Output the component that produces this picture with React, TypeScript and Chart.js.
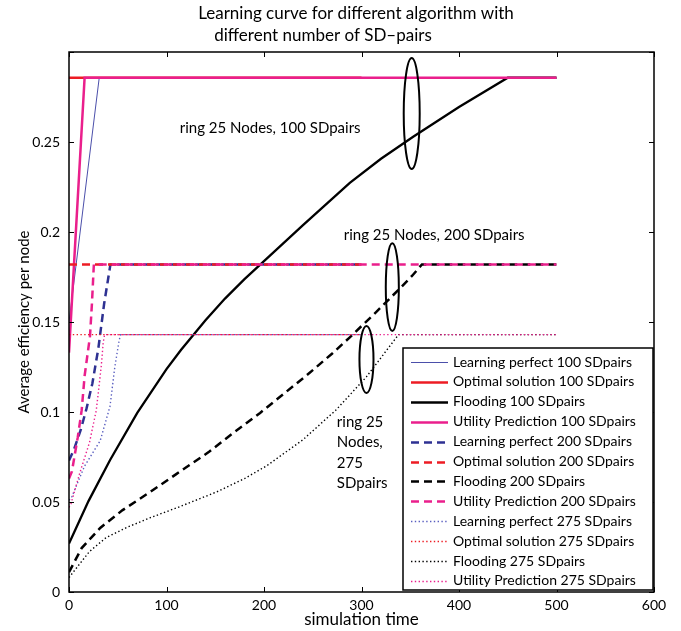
import React, { useEffect, useRef } from 'react';
import { Chart, registerables } from 'chart.js';
Chart.register(...registerables);

const FONT = 'Lato, "Noto Sans", sans-serif';

const titleLines = ['Learning curve for different algorithm with', 'different number of SD\u2013pairs'];
const xAxisTitle = 'simulation time';
const yAxisTitle = 'Average efficiency per node';
const xTicks = [0, 100, 200, 300, 400, 500, 600];
const yTicks = [0, 0.05, 0.1, 0.15, 0.2, 0.25, 0.3];

const seriesLabels = [
  'Learning perfect 100 SDpairs',
  'Optimal solution 100 SDpairs',
  'Flooding 100 SDpairs',
  'Utility Prediction 100 SDpairs',
  'Learning perfect 200 SDpairs',
  'Optimal solution 200 SDpairs',
  'Flooding 200 SDpairs',
  'Utility Prediction 200 SDpairs',
  'Learning perfect 275 SDpairs',
  'Optimal solution 275 SDpairs',
  'Flooding 275 SDpairs',
  'Utility Prediction 275 SDpairs',
];

// ---- 100 SD pairs ----
const learn100X = [0, 31, 300];
const learn100Y = [0.15, 0.2857, 0.2857];
const opt100X = [0, 300];
const opt100Y = [0.2857, 0.2857];
const flood100X = [0, 20, 42, 70, 100, 115, 140, 160, 180, 200, 240, 288, 320, 353, 400, 450, 500];
const flood100Y = [0.027, 0.0505, 0.0732, 0.0995, 0.1238, 0.1346, 0.151, 0.163, 0.1738, 0.1838, 0.2038, 0.2273, 0.2407, 0.2529, 0.2694, 0.2857, 0.2857];
const util100X = [0, 16, 500];
const util100Y = [0.133, 0.2857, 0.2857];

// ---- 200 SD pairs ----
const learn200X = [0, 5, 12, 18, 24, 30, 36, 42.5, 300];
const learn200Y = [0.073, 0.079, 0.09, 0.102, 0.116, 0.135, 0.16, 0.182, 0.182];
const opt200X = [0, 300];
const opt200Y = [0.182, 0.182];
const flood200X = [0, 13, 32, 55, 83, 110, 144, 170, 196, 220, 244, 270, 288, 315, 340, 352, 362, 500];
const flood200Y = [0.011, 0.0244, 0.0356, 0.0455, 0.0555, 0.0655, 0.078, 0.089, 0.0995, 0.11, 0.1205, 0.1325, 0.1415, 0.1555, 0.169, 0.1757, 0.182, 0.182];
const util200X = [0, 3, 9, 13, 16, 19, 21.5, 23.5, 25.5, 500];
const util200Y = [0.063, 0.067, 0.086, 0.101, 0.12, 0.132, 0.142, 0.16, 0.182, 0.182];

// ---- 275 SD pairs ----
const learn275X = [0, 3, 16, 32, 42, 47, 51.5, 53, 300];
const learn275Y = [0.051, 0.053, 0.07, 0.084, 0.103, 0.125, 0.14, 0.143, 0.143];
const opt275X = [0, 300];
const opt275Y = [0.143, 0.143];
const flood275X = [0, 4, 21, 38, 59, 83, 114, 151, 180, 203, 240, 274, 305, 338, 500];
const flood275Y = [0.008, 0.0108, 0.0225, 0.0302, 0.0358, 0.0412, 0.0475, 0.0555, 0.063, 0.0702, 0.0846, 0.1012, 0.1195, 0.143, 0.143];
const util275X = [0, 2, 11, 21, 28, 33, 35, 36.5, 500];
const util275Y = [0.047, 0.049, 0.066, 0.083, 0.101, 0.125, 0.138, 0.143, 0.143];

const seriesX = [learn100X, opt100X, flood100X, util100X, learn200X, opt200X, flood200X, util200X, learn275X, opt275X, flood275X, util275X];
const seriesY = [learn100Y, opt100Y, flood100Y, util100Y, learn200Y, opt200Y, flood200Y, util200Y, learn275Y, opt275Y, flood275Y, util275Y];

// annotations (data coordinates)
const annoLines = [['ring 25 Nodes, 100 SDpairs'], ['ring 25 Nodes, 200 SDpairs'], ['ring 25', 'Nodes,', '275', 'SDpairs']];
const annoX = [113.6, 281.8, 274.7];
const annoY = [0.2578, 0.1983, 0.0944];
const ellCX = [351.5, 331.6, 305.1];
const ellCY = [0.2658, 0.1694, 0.1292];
const ellRX = [8.2, 6.7, 7.2];
const ellRY = [0.0308, 0.0244, 0.0186];

// styles
const BLUE_THIN = '#4b4faa';
const NAVY = '#2e3192';
const RED = '#ed1c24';
const MAG = '#ea1f8c';
const BLACK = '#000000';
const colors = [BLUE_THIN, RED, BLACK, MAG, NAVY, RED, BLACK, MAG, '#5a5fc0', RED, BLACK, MAG];
const widths = [1, 2.5, 2.3, 2.5, 2.5, 2.5, 2.5, 2.5, 1.4, 1.4, 1.4, 1.4];
const DASH = [8, 5];
const DOT = [1.4, 2.4];
const dashes = [[], [], [], [], DASH, DASH, DASH, DASH, DOT, DOT, DOT, DOT];

const overlay = {
  id: 'overlay',
  afterDraw(chart: any) {
    const { ctx, chartArea: a, scales } = chart;
    const xs = scales.x;
    const ys = scales.y;
    ctx.save();

    // frame
    ctx.strokeStyle = '#000';
    ctx.lineWidth = 1.5;
    ctx.setLineDash([]);
    ctx.strokeRect(a.left, a.top, a.right - a.left, a.bottom - a.top);

    // inward ticks on all sides
    const TL = 5;
    ctx.lineWidth = 1;
    ctx.beginPath();
    xTicks.forEach((v) => {
      const px = Math.round(xs.getPixelForValue(v)) + 0.5;
      ctx.moveTo(px, a.bottom);
      ctx.lineTo(px, a.bottom - TL);
      ctx.moveTo(px, a.top);
      ctx.lineTo(px, a.top + TL);
    });
    yTicks.forEach((v) => {
      const py = Math.round(ys.getPixelForValue(v)) + 0.5;
      ctx.moveTo(a.left, py);
      ctx.lineTo(a.left + TL, py);
      ctx.moveTo(a.right, py);
      ctx.lineTo(a.right - TL, py);
    });
    ctx.stroke();

    // ellipses
    ctx.lineWidth = 2;
    ctx.strokeStyle = '#000';
    ellCX.forEach((cx, i) => {
      const px = xs.getPixelForValue(cx);
      const py = ys.getPixelForValue(ellCY[i]);
      const rx = Math.abs(xs.getPixelForValue(cx + ellRX[i]) - px);
      const ry = Math.abs(ys.getPixelForValue(ellCY[i] + ellRY[i]) - py);
      ctx.beginPath();
      ctx.ellipse(px, py, rx, ry, 0, 0, Math.PI * 2);
      ctx.stroke();
    });

    // annotation texts
    ctx.fillStyle = '#000';
    ctx.font = `15px ${FONT}`;
    ctx.textAlign = 'left';
    ctx.textBaseline = 'middle';
    annoLines.forEach((lines, i) => {
      const px = xs.getPixelForValue(annoX[i]);
      const py = ys.getPixelForValue(annoY[i]);
      lines.forEach((t, j) => ctx.fillText(t, px, py + j * 20.5));
    });

    // legend
    const lx = 403, ly = 348, lw = 250, lh = 242;
    ctx.fillStyle = '#fff';
    ctx.fillRect(lx, ly, lw, lh);
    ctx.lineWidth = 1.5;
    ctx.strokeStyle = '#000';
    ctx.setLineDash([]);
    ctx.strokeRect(lx, ly, lw, lh);
    ctx.font = `14px ${FONT}`;
    ctx.textBaseline = 'middle';
    chart.data.datasets.forEach((ds: any, i: number) => {
      const y = 362 + i * 19.9;
      ctx.beginPath();
      ctx.strokeStyle = ds.borderColor;
      ctx.lineWidth = ds.borderWidth;
      ctx.setLineDash(ds.borderDash || []);
      ctx.moveTo(411, Math.round(y) + 0.5);
      ctx.lineTo(448, Math.round(y) + 0.5);
      ctx.stroke();
      ctx.setLineDash([]);
      ctx.fillStyle = '#000';
      ctx.fillText(ds.label, 453, y);
    });

    // titles
    ctx.fillStyle = '#000';
    ctx.font = `17px ${FONT}`;
    ctx.textAlign = 'center';
    ctx.textBaseline = 'middle';
    ctx.fillText(titleLines[0], 356, 14);
    ctx.fillText(titleLines[1], 323, 36);
    ctx.fillText(xAxisTitle, (a.left + a.right) / 2, 620);
    ctx.font = `15px ${FONT}`;
    ctx.translate(24, (a.top + a.bottom) / 2);
    ctx.rotate(-Math.PI / 2);
    ctx.fillText(yAxisTitle, 0, 0);
    ctx.restore();
  },
};

export default function App() {
  const ref = useRef<HTMLCanvasElement>(null);
  useEffect(() => {
    const datasets = seriesLabels.map((label, i) => ({
      label,
      data: seriesX[i].map((x, k) => ({ x, y: seriesY[i][k] })),
      borderColor: colors[i],
      backgroundColor: colors[i],
      borderWidth: widths[i],
      borderDash: dashes[i],
      pointRadius: 0,
      fill: false,
      tension: 0,
      order: 11 - i,
    }));
    const chart = new Chart(ref.current as HTMLCanvasElement, {
      type: 'line',
      data: { datasets } as any,
      options: {
        responsive: false,
        animation: false,
        devicePixelRatio: 1,
        events: [],
        layout: { padding: { top: 52, right: 27, left: 0, bottom: 0 } },
        plugins: { legend: { display: false }, title: { display: false }, tooltip: { enabled: false } },
        scales: {
          x: {
            type: 'linear',
            min: 0,
            max: 600,
            grid: { display: false, drawTicks: false },
            border: { display: false },
            ticks: { stepSize: 100, color: '#000', font: { family: FONT, size: 14 }, padding: 5, maxRotation: 0, autoSkip: false },
            afterFit: (s: any) => { s.height = 39; },
          },
          y: {
            type: 'linear',
            min: 0,
            max: 0.3,
            grid: { display: false, drawTicks: false },
            border: { display: false },
            ticks: {
              stepSize: 0.05,
              color: '#000',
              font: { family: FONT, size: 14 },
              padding: 9,
              callback: (v: any) => (v > 0.29 ? '' : String(Math.round(v * 100) / 100)),
            },
            afterFit: (s: any) => { s.width = 69; },
          },
        },
      } as any,
      plugins: [overlay],
    });
    return () => chart.destroy();
  }, []);
  return (
    <div style={{ position: 'fixed', left: 0, top: 0, width: 681, height: 631, background: '#fff' }}>
      <canvas ref={ref} width={681} height={631} style={{ display: 'block', width: 681, height: 631 }} />
    </div>
  );
}
